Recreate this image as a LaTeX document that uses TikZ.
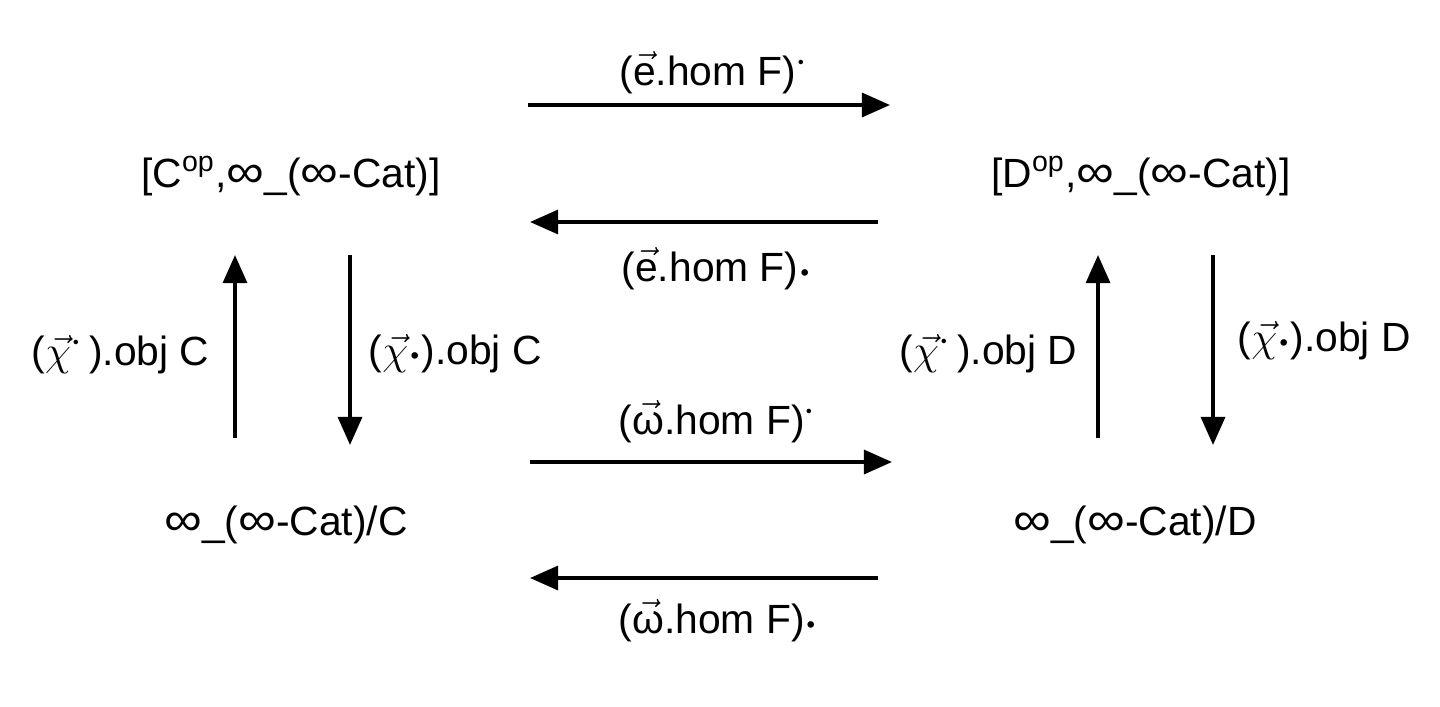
\documentclass[tikz,border=0pt]{standalone}
\usepackage{amsmath, amssymb}
\usepackage{graphicx}
\usepackage{fontspec}
\setmainfont{Liberation Sans}
\usetikzlibrary{arrows.meta}

\newcommand{\upd}{\ensuremath{^{\boldsymbol{\cdot}}}}
\newcommand{\dnd}{\raisebox{-0.07em}{$\boldsymbol{\cdot}$}}
\newcommand{\vch}{\vec{\chi}}
\newcommand{\inft}{\scalebox{1.3}[1.15]{∞}}

\begin{document}
\begin{tikzpicture}[x=0.01cm, y=-0.01cm,
	every node/.style={font=\fontsize{11.6}{14}\selectfont, inner sep=0pt},
	mor/.style={-{Triangle[length=8pt,width=6.8pt]}, line width=1.05pt}]
	\useasboundingbox (0,0) rectangle (1440,706);
	% the four categories
	\node[anchor=base] (Cpsh) at (291,187) {[C\textsuperscript{op},\inft\_(\inft-Cat)]};
	\node[anchor=base] (Dpsh) at (1141,187) {[D\textsuperscript{op},\inft\_(\inft-Cat)]};
	\node[anchor=base] (Cslice) at (286,535) {\inft\_(\inft-Cat)/C};
	\node[anchor=base] (Dslice) at (1135,535) {\inft\_(\inft-Cat)/D};
	% ends of the horizontal arrows
	\coordinate (eA) at (528,105); \coordinate (eB) at (890,105);
	\coordinate (eC) at (878,222); \coordinate (eD) at (530,222);
	\coordinate (wA) at (530,462); \coordinate (wB) at (892,462);
	\coordinate (wC) at (878,578); \coordinate (wD) at (530,578);
	\draw[mor] (eA) -- (eB);
	\draw[mor] (eC) -- (eD);
	\draw[mor] (wA) -- (wB);
	\draw[mor] (wC) -- (wD);
	\node[anchor=base west] (eup) at (619,85) {($\vec{\text{e}}$.hom F)\upd};
	\node[anchor=base west] (edn) at (621,281) {($\vec{\text{e}}$.hom F)\dnd};
	\node[anchor=base west] (wup) at (618,434) {($\vec{\text{ω}}$.hom F)\upd};
	\node[anchor=base west] (wdn) at (618,633) {($\vec{\text{ω}}$.hom F)\dnd};
	% ends of the vertical arrows
	\coordinate (cA) at (235,438); \coordinate (cB) at (235,255);
	\coordinate (cC) at (350,255); \coordinate (cD) at (350,445);
	\coordinate (dA) at (1098,438); \coordinate (dB) at (1098,255);
	\coordinate (dC) at (1213,255); \coordinate (dD) at (1213,445);
	\draw[mor] (cA) -- (cB);
	\draw[mor] (cC) -- (cD);
	\draw[mor] (dA) -- (dB);
	\draw[mor] (dC) -- (dD);
	\node[anchor=base east] (cup) at (210,365) {($\vch^{\boldsymbol{\cdot}}$\,).obj C};
	\node[anchor=base west] (cdn) at (368,364) {($\vch$\dnd).obj C};
	\node[anchor=base east] (dup) at (1078,364) {($\vch^{\boldsymbol{\cdot}}$\,).obj D};
	\node[anchor=base west] (ddn) at (1237,351) {($\vch$\dnd).obj D};
\end{tikzpicture}
\end{document}
